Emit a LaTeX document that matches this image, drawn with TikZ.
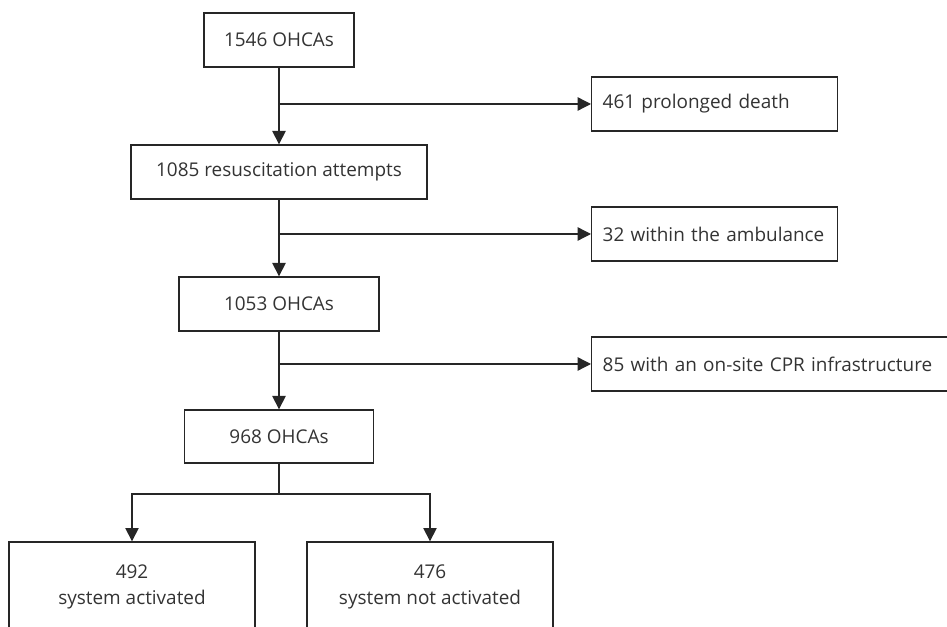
\documentclass[tikz,border=0pt]{standalone}
\usepackage{fontspec}
\setmainfont{Open Sans}
\usetikzlibrary{arrows.meta}

\tikzset{
  box/.style={draw=black!85, line width=1pt, text=black!80, inner sep=0pt,
    minimum height=40.5pt, font=\fontsize{14.2}{19}\selectfont},
  side/.style={box, anchor=west, text width=168pt, inner xsep=8.25pt, align=left},
  arr/.style={-{Triangle[length=10pt,width=10pt]}, line width=1pt, draw=black!85},
  line/.style={line width=1pt, draw=black!85}
}

\begin{document}
\begin{tikzpicture}[x=0.75pt,y=-0.75pt]
  \path[use as bounding box, clip] (0,0) rectangle (947,627);

  \node[box, minimum width=112.5pt] (0) at (279,40) {1546 OHCAs};
  \node[box, minimum width=222pt] (1) at (279,172) {1085 resuscitation attempts};
  \node[box, minimum width=150pt] (2) at (279,304) {1053 OHCAs};
  \node[box, minimum width=141.75pt, minimum height=39.75pt] (3) at (279,436.5) {968 OHCAs};
  \node[side] (4) at (591,104) {\mbox{461 prolonged death}};
  \node[side] (5) at (591,234) {\mbox{32 within the ambulance}};
  \node[side, text width=253.5pt] (6) at (591,364) {\mbox{85 with an on-site CPR infrastructure}};
  \node[box, minimum width=184.5pt, minimum height=67.5pt, align=center] (7) at (132,587) {492\\system activated};
  \node[box, minimum width=184.5pt, minimum height=67.5pt, align=center] (8) at (430,587) {476\\system not activated};

  % branch points
  \coordinate (b0) at (279,104);
  \coordinate (b1) at (279,234);
  \coordinate (b2) at (279,364);
  \coordinate (b3) at (279,494);

  \draw[arr] (0) -- (1);
  \draw[arr] (1) -- (2);
  \draw[arr] (2) -- (3);
  \draw[arr] (b0) -- (4.west);
  \draw[arr] (b1) -- (5.west);
  \draw[arr] (b2) -- (6.west);
  \draw[line] (3) -- (b3);
  \draw[arr] (b3) -| (7);
  \draw[arr] (b3) -| (8);
\end{tikzpicture}
\end{document}
